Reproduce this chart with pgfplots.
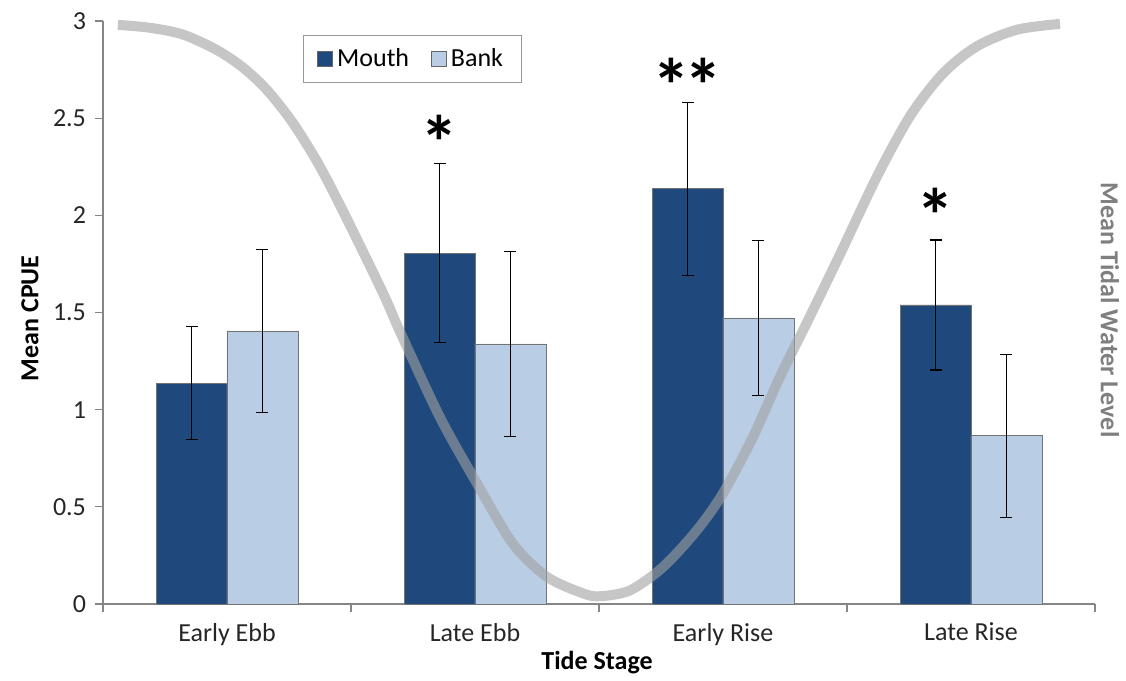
\documentclass[border=0pt]{standalone}
\usepackage{pgfplots}
\pgfplotsset{compat=1.18}
\usepackage{fontspec}
\setmainfont{Carlito}
\definecolor{mouth}{HTML}{1F497D}
\definecolor{bank}{HTML}{B9CDE5}
\definecolor{tide}{HTML}{A0A0A0}
\definecolor{axisgray}{HTML}{868686}
\definecolor{labgray}{HTML}{7F7F7F}
\begin{document}
\begin{tikzpicture}
\begin{axis}[
  scale only axis, width=496pt, height=291.5pt,
  xmin=-0.5, xmax=3.5, ymin=0, ymax=3,
  axis x line*=bottom, axis y line*=left,
  axis line style={axisgray, line width=0.6pt},
  tick align=outside,
  major tick length=4pt, minor tick length=4pt,
  every tick/.style={axisgray, line width=0.6pt},
  xtick={0,1,2,3},
  xticklabels={Early Ebb, Late Ebb, Early Rise, Late Rise},
  major x tick style={draw=none},
  minor xtick={-0.5,0.5,1.5,2.5,3.5},
  ytick={0,0.5,1,1.5,2,2.5,3},
  /pgf/number format/assume math mode=true,
  tick label style={font=\fontsize{13}{15}\selectfont, text=black!85},
  yticklabel style={xshift=-1pt},
  xticklabel style={yshift=-2pt},
  xlabel={Tide Stage},
  xlabel style={at={(axis description cs:0.498,-0.101)}, anchor=center, font=\fontsize{13}{15}\selectfont\bfseries},
  ylabel={Mean CPUE},
  ylabel style={at={(axis description cs:-0.0736,0.49)}, anchor=center, rotate=0, font=\fontsize{13}{15}\selectfont\bfseries},
  legend style={at={(axis description cs:0.2016,0.976)}, anchor=north west,
    draw=black!40, line width=0.4pt, font=\fontsize{13}{15}\selectfont,
    inner xsep=7pt, inner ysep=4.5pt,
    /tikz/every even column/.append style={column sep=9pt}},
  legend columns=2,
  legend image code/.code={\draw[#1, draw=black!60, line width=0.4pt] (0pt,-3.6pt) rectangle (7.5pt,3.9pt);},
  clip=false,
]
\addplot[ybar, bar width=35.5pt, bar shift=0pt, fill=mouth, draw=black!55, line width=0.4pt,
  error bars/.cd, y dir=both, y explicit,
  error bar style={black, line width=0.7pt},
  error mark options={rotate=90, mark size=3pt, black, line width=0.7pt}]
coordinates {
 (-0.143,1.137) +- (0,0.290)
 (0.857,1.806) +- (0,0.460)
 (1.857,2.136) +- (0,0.445)
 (2.857,1.539) +- (0,0.335)
};
\addlegendentry{Mouth}
\addplot[ybar, bar width=35.5pt, bar shift=0pt, fill=bank, draw=black!55, line width=0.4pt,
  error bars/.cd, y dir=both, y explicit,
  error bar style={black, line width=0.7pt},
  error mark options={rotate=90, mark size=3pt, black, line width=0.7pt}]
coordinates {
 (0.143,1.405) +- (0,0.420)
 (1.143,1.338) +- (0,0.475)
 (2.143,1.472) +- (0,0.400)
 (3.143,0.865) +- (0,0.420)
};
\addlegendentry{Bank}
\addplot[smooth, tension=0.5, tide, opacity=0.6, line width=5pt, forget plot, no markers]
coordinates {
 (-0.44,2.98) (-0.31,2.965) (-0.177,2.93) (-0.04,2.85) (0.065,2.76) (0.161,2.645)
 (0.266,2.475) (0.375,2.25) (0.484,1.98) (0.629,1.60) (0.698,1.40) (0.859,0.96)
 (1.008,0.62) (1.153,0.31) (1.29,0.14) (1.435,0.055) (1.504,0.04) (1.625,0.07)
 (1.758,0.19) (1.895,0.38) (2.0,0.57) (2.121,0.86) (2.23,1.17) (2.339,1.45)
 (2.472,1.80) (2.621,2.20) (2.754,2.51) (2.887,2.73) (3.024,2.87) (3.185,2.955)
 (3.359,2.985)
};
\node[anchor=north, inner sep=0pt, font=\fontsize{38}{38}\selectfont\bfseries] at (axis cs:0.857,2.52) {*};
\node[anchor=north, inner sep=0pt, font=\fontsize{38}{38}\selectfont\bfseries] at (axis cs:1.857,2.81) {*\kern-3pt*};
\node[anchor=north, inner sep=0pt, font=\fontsize{38}{38}\selectfont\bfseries] at (axis cs:2.857,2.14) {*};
\node[rotate=-90, anchor=center, font=\fontsize{13}{15}\selectfont\bfseries, text=labgray] at (axis description cs:1.015,0.504) {Mean Tidal Water Level};
\end{axis}
\path ([xshift=-51.5pt,yshift=-37.5pt]current axis.south west) rectangle ([xshift=15.5pt,yshift=10.5pt]current axis.north east);
\end{tikzpicture}
\end{document}
